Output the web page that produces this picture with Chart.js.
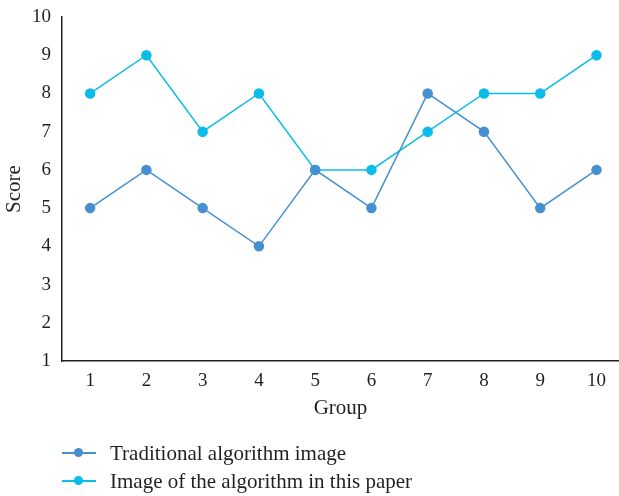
<!DOCTYPE html>
<html>
<head>
<meta charset="utf-8">
<script src="https://cdn.jsdelivr.net/npm/chart.js@4/dist/chart.umd.min.js"></script>
<style>
html,body{margin:0;padding:0;background:#fff;}
#wrap{position:relative;width:619px;height:496px;}
canvas{position:absolute;left:0;top:0;}
.leg{position:absolute;left:62px;font-family:"Liberation Serif","DejaVu Serif",serif;font-size:21px;line-height:24px;color:#231f20;display:flex;align-items:center;white-space:nowrap;}
.leg .sw{position:relative;width:34px;height:12px;margin-right:14px;}
.leg .sw i{position:absolute;left:0;top:5px;width:34px;height:1.5px;}
.leg .sw b{position:absolute;left:12px;top:1px;width:9px;height:9px;border-radius:50%;}
</style>
</head>
<body>
<div id="wrap">
<canvas id="c" width="619" height="496"></canvas>
<div class="leg" id="l0" style="top:441px"><span class="sw"><i></i><b></b></span><span></span></div>
<div class="leg" id="l1" style="top:469px"><span class="sw"><i></i><b></b></span><span></span></div>
</div>
<script>
const categories = [1,2,3,4,5,6,7,8,9,10];
const seriesNames = ["Traditional algorithm image","Image of the algorithm in this paper"];
const traditional = [5,6,5,4,6,5,8,7,5,6];
const paperAlgo = [8,9,7,8,6,6,7,8,8,9];
const yTicks = [1,2,3,4,5,6,7,8,9,10];
const colors = ["#4690d0","#0bbce8"];

[0,1].forEach(i=>{
  const el=document.getElementById('l'+i);
  el.querySelector('i').style.background=colors[i];
  el.querySelector('b').style.background=colors[i];
  el.lastElementChild.textContent=seriesNames[i];
});

const fam = '"Liberation Serif","DejaVu Serif",serif';
const tickFont = {family:fam, size:19};
const titleFont = {family:fam, size:21};
new Chart(document.getElementById('c'),{
  type:'line',
  data:{
    datasets:[
      {label:seriesNames[0],data:categories.map((c,i)=>({x:c,y:traditional[i]})),borderColor:colors[0],backgroundColor:colors[0],borderWidth:1.5,pointRadius:4.5,pointHoverRadius:4.5,tension:0},
      {label:seriesNames[1],data:categories.map((c,i)=>({x:c,y:paperAlgo[i]})),borderColor:colors[1],backgroundColor:colors[1],borderWidth:1.5,pointRadius:4.5,pointHoverRadius:4.5,tension:0}
    ]
  },
  options:{
    responsive:false,animation:false,
    layout:{autoPadding:false,padding:{top:17,right:0,bottom:70,left:0}},
    plugins:{legend:{display:false},tooltip:{enabled:false}},
    scales:{
      x:{type:'linear',min:0.5,max:10.4,
        afterBuildTicks:s=>{s.ticks=categories.map(v=>({value:v}));},
        afterFit:s=>{s.height=65;s.paddingLeft=0;s.paddingRight=0;},
        grid:{display:false,drawTicks:false},
        border:{color:'#231f20',width:1.5},
        ticks:{font:tickFont,color:'#231f20',padding:9,autoSkip:false,maxRotation:0,callback:v=>String(v)},
        title:{display:true,text:'Group',font:titleFont,color:'#231f20',padding:{top:0,bottom:5}}
      },
      y:{min:1,max:10,
        afterBuildTicks:s=>{s.ticks=yTicks.map(v=>({value:v}));},
        afterFit:s=>{s.width=62;s.paddingTop=0;s.paddingBottom=0;},
        grid:{display:false,drawTicks:false},
        border:{color:'#231f20',width:1.5},
        ticks:{font:tickFont,color:'#231f20',padding:11,callback:v=>String(v)},
        title:{display:true,text:'Score',font:titleFont,color:'#231f20',padding:{top:2,bottom:0}}
      }
    }
  }
});
</script>
</body>
</html>
